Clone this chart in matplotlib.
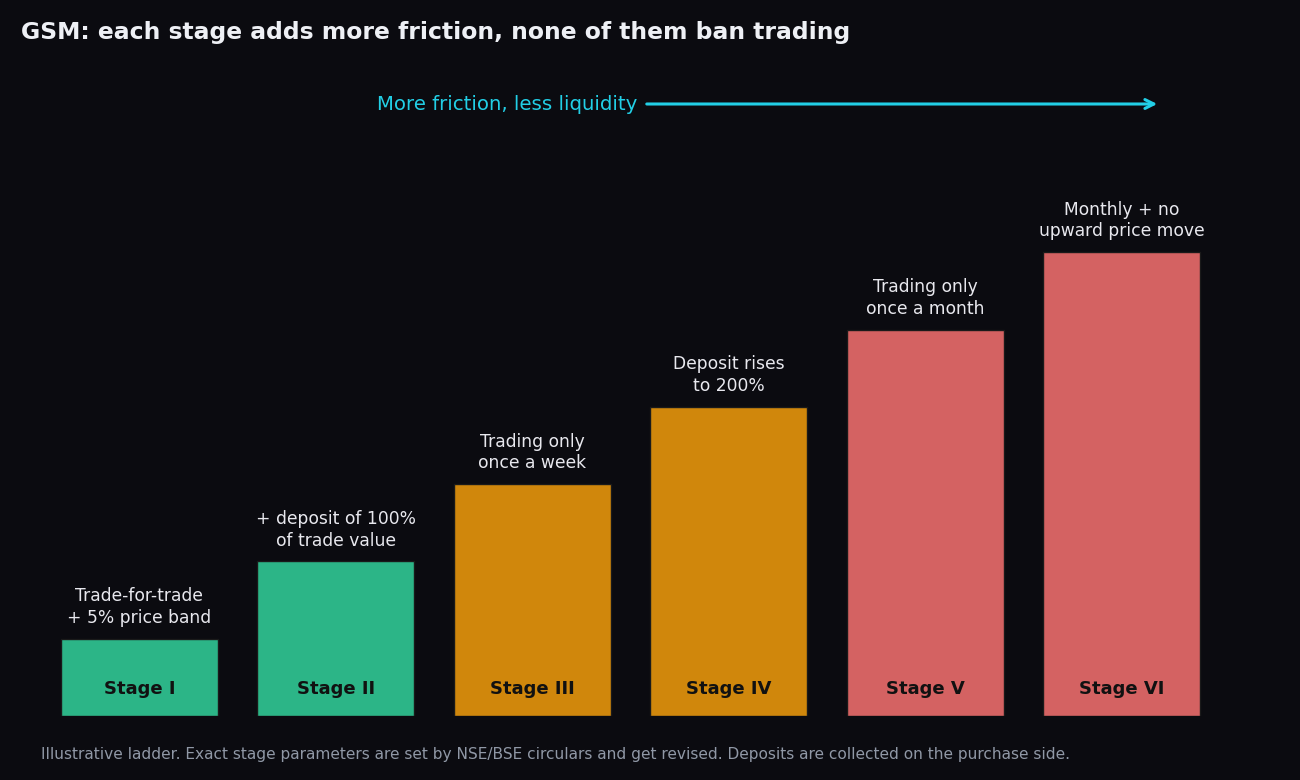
import matplotlib
matplotlib.use("Agg")
import matplotlib.pyplot as plt

stages = ["Stage I", "Stage II", "Stage III", "Stage IV", "Stage V", "Stage VI"]
friction = [1, 2, 3, 4, 5, 6]
notes = [
    "Trade-for-trade\n+ 5% price band",
    "+ deposit of 100%\nof trade value",
    "Trading only\nonce a week",
    "Deposit rises\nto 200%",
    "Trading only\nonce a month",
    "Monthly + no\nupward price move",
]
colors = ["#2cb587", "#2cb587", "#d0870c", "#d0870c", "#d46262", "#d46262"]

BG = "#0b0b10"
plt.rcParams['font.family'] = ['DejaVu Sans']

fig = plt.figure(figsize=(13, 7.8), dpi=100, facecolor=BG)
ax = fig.add_axes([41/1300, 64/780, (1220-41)/1300, 0.6])
ax.set_facecolor(BG)

x = list(range(len(stages)))
bars = ax.bar(x, friction, width=0.8, color=colors, edgecolor="#1a1a1a", linewidth=1)
ax.set_xlim(-0.5, 5.5)
unit_px = 77.3
ax_h_px = 0.6 * 780
ax.set_ylim(0, ax_h_px / unit_px)

for xi, h, note, st in zip(x, friction, notes, stages):
    ax.annotate(note, (xi, h), xytext=(0, 8.5), textcoords="offset points",
                ha="center", va="bottom", color="#e8e8ee", fontsize=12.3,
                linespacing=1.25)
    ax.annotate(st, (xi, 0), xytext=(0, 19.5), textcoords="offset points",
                ha="center", va="center", color="#111111", fontsize=13,
                fontweight="bold")

for s in ax.spines.values():
    s.set_visible(False)
ax.set_xticks([])
ax.set_yticks([])

fig.text(21/1300, 1 - 32/780, "GSM: each stage adds more friction, none of them ban trading",
         color="#eef0f5", fontsize=16.9, fontweight="bold", ha="left", va="center")

fig.text(637/1300, 1 - 104/780, "More friction, less liquidity", color="#22cfe6",
         fontsize=14.2, ha="right", va="center")
fig.add_artist(matplotlib.patches.FancyArrowPatch(
    (644/1300, 1 - 104/780), (1160/1300, 1 - 104/780),
    transform=fig.transFigure, arrowstyle="->", mutation_scale=16,
    color="#22cfe6", linewidth=2.2))

fig.text(41/1300, 1 - 755/780,
         "Illustrative ladder. Exact stage parameters are set by NSE/BSE circulars and get revised. Deposits are collected on the purchase side.",
         color="#9098a6", fontsize=11.05, ha="left", va="center")

fig.savefig("out.png", dpi=100, facecolor=BG)
